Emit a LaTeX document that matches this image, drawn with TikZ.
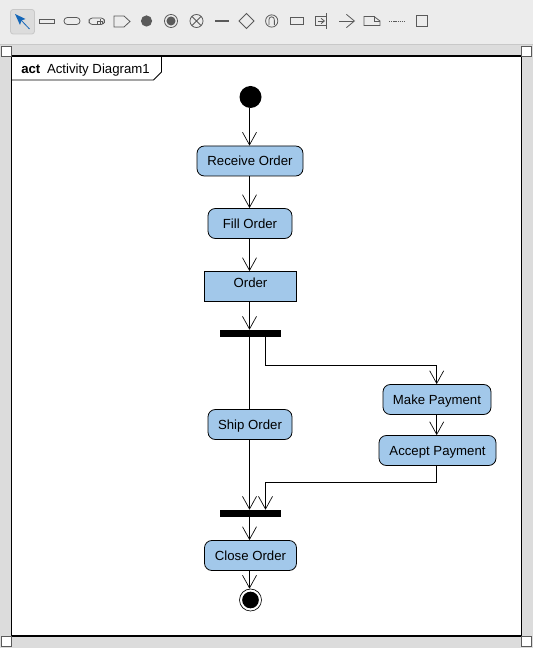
\documentclass[tikz,border=0pt]{standalone}
\usepackage{fontspec}
\setmainfont{Liberation Sans}
\usetikzlibrary{positioning, arrows.meta, calc}
\definecolor{ActionBlue}{HTML}{A2C8EA}
\definecolor{ToolbarGrey}{HTML}{ECECEC}
\definecolor{CanvasGrey}{HTML}{DCDCDC}
\definecolor{RuleGrey}{HTML}{C8C8C8}
\definecolor{IconGrey}{HTML}{5A5A5A}
\definecolor{PickBlue}{HTML}{1466B8}
\begin{document}
\begin{tikzpicture}[
      x=0.75pt, y=-0.75pt,
      font=\fontsize{9.9pt}{11pt}\selectfont,
      action/.style={draw, fill=ActionBlue, rounded corners=5.5pt, minimum height=22.5pt, inner sep=0pt, line width=0.6pt, text height=7pt, text depth=0pt},
      datanode/.style={draw, fill=ActionBlue, minimum height=22.5pt, inner sep=0pt, line width=0.6pt, text depth=5pt},
      bar/.style={fill=black, minimum width=45.75pt, minimum height=5.25pt, inner sep=0pt},
      flow/.style={-{Straight Barb[length=9.5pt,width=10.5pt,line width=0.5pt]}, line width=0.6pt},
      handle/.style={draw=IconGrey, fill=white, minimum size=7.5pt, inner sep=0pt, line width=0.7pt},
      icon/.style={draw=IconGrey, line width=0.6pt}
  ]
    \useasboundingbox (0,0) rectangle (533,648);
    % window background
    \fill[CanvasGrey] (0,0) rectangle (533,648);
    \fill[ToolbarGrey] (0,0) rectangle (533,44);
    \draw[RuleGrey, line width=0.7pt] (0,44.5) -- (533,44.5);
    % toolbar
    \draw[RuleGrey, fill=CanvasGrey, rounded corners=2pt, line width=0.6pt] (10.5,9.5) rectangle (34.5,34);
    \fill[PickBlue] (15,14) -- (25.5,19) -- (21.5,20.5) -- (20,25) -- cycle;
    \draw[PickBlue, line width=0.6pt] (20,19) -- (29.5,29);
    \draw[icon] (39.5,19) rectangle (54.5,23.5);
    \draw[icon, rounded corners=2.5pt] (64,17.5) rectangle (80,24.5);
    \draw[icon, rounded corners=2.5pt] (89,18) rectangle (104.5,24.5);
    \draw[icon, line width=0.5pt] (100,24) -- (100,19.5) (97.5,24) -- (97.5,21.5) (102.5,24) -- (102.5,21.5) (97.5,21.5) -- (102.5,21.5);
    \draw[icon] (114,16) -- (124,16) -- (130,21.5) -- (124,27) -- (114,27) -- cycle;
    \fill[IconGrey] (146.5,21) circle (4.2pt);
    \draw[icon] (171,21) circle (4.9pt);
    \fill[IconGrey] (171,21) circle (3.4pt);
    \draw[icon] (196.5,21) circle (4.9pt);
    \draw[icon] (192,16.5) -- (201,25.5) (201,16.5) -- (192,25.5);
    \fill[IconGrey] (215,20) rectangle (229,22);
    \draw[icon] (246.5,13.5) -- (254,21) -- (246.5,28.5) -- (239,21) -- cycle;
    \draw[icon] (271.7,21) circle (4.6pt);
    \draw[icon] (269,25) -- (269,19.5) arc[start angle=180, end angle=0, radius=2pt] -- (274.4,25);
    \draw[icon] (290.3,17) rectangle (303.7,24.5);
    \draw[icon] (326,16) -- (315.3,16) -- (315.3,25) -- (326,25);
    \draw[icon] (326,13.5) -- (326,29);
    \draw[icon, ->, >={Straight Barb[length=2.5pt,width=4pt]}] (317.5,21) -- (325,21);
    \draw[icon, -{Straight Barb[length=6pt,width=10pt]}] (339,21) -- (355,21);
    \draw[icon] (364,16.5) -- (374,16.5) -- (380,21) -- (380,25.5) -- (364,25.5) -- cycle;
    \draw[icon] (374,16.5) -- (374,21) -- (380,21);
    \draw[icon, dash pattern=on 1pt off 0.6pt] (389,21) -- (405,21);
    \draw[icon] (416.5,15) rectangle (427.5,26);
    % frame
    \draw[fill=white, line width=0.8pt] (11.5,56) rectangle (521.5,636);
    \draw[line width=0.7pt] (161.5,56) -- (161.5,72) -- (153.5,80) -- (11.5,80);
    \node[anchor=base west, inner sep=0pt] (title) at (21,73.5) {\textbf{act}\hspace{5pt}Activity Diagram1};
    \node[handle] (hnw) at (6.5,51.5) {};
    \node[handle] (hne) at (526.5,51.5) {};
    \node[handle] (hsw) at (6.5,641.5) {};
    \node[handle] (hse) at (526.5,641.5) {};
    % diagram nodes
    \node[circle, fill=black, minimum size=16.5pt, inner sep=0pt] (start) at (250.5,97) {};
    \node[action, minimum width=79.5pt] (receive) at (250,161) {Receive Order};
    \node[action, minimum width=63pt] (fill) at (250,223.5) {Fill Order};
    \node[datanode, minimum width=69pt] (order) at (250.5,286.5) {Order};
    \node[bar] (fork) at (250.5,333.5) {};
    \node[action, minimum width=63pt] (ship) at (250,424.5) {Ship Order};
    \node[action, minimum width=81pt] (make) at (437,399.5) {Make Payment};
    \node[action, minimum width=87.75pt] (accept) at (437.5,450.5) {Accept Payment};
    \node[bar] (join) at (250.5,513.5) {};
    \node[action, minimum width=69pt] (close) at (250.5,555.5) {Close Order};
    \node[circle, draw, fill=white, minimum size=16.5pt, inner sep=0pt, line width=0.5pt] (end) at (250.5,600) {};
    \node[circle, fill=black, minimum size=12.5pt, inner sep=0pt] (endin) at (end.center) {};
    \coordinate (spine) at (249.5,0);
    \coordinate (side) at (436.7,0);
    \coordinate (forkout) at ($(fork.south)+(15,0)$);
    \coordinate (joinin) at ($(join.north)+(15,0)$);
    % flows
    \draw[flow] (spine |- start.south) -- (spine |- receive.north);
    \draw[flow] (spine |- receive.south) -- (spine |- fill.north);
    \draw[flow] (spine |- fill.south) -- (spine |- order.north);
    \draw[flow] (spine |- order.south) -- (spine |- fork.north);
    \draw[line width=0.6pt] (spine |- fork.south) -- (spine |- ship.north);
    \draw[flow] (spine |- ship.south) -- (spine |- join.north);
    \draw[flow] (spine |- join.south) -- (spine |- close.north);
    \draw[flow] (spine |- close.south) -- (spine |- end.north);
    \draw[flow] (forkout) |- (436.7,365.5) -- (side |- make.north);
    \draw[flow] (side |- make.south) -- (side |- accept.north);
    \draw[flow] (side |- accept.south) |- (265.5,482.5) -- (joinin);
  \end{tikzpicture}
\end{document}
